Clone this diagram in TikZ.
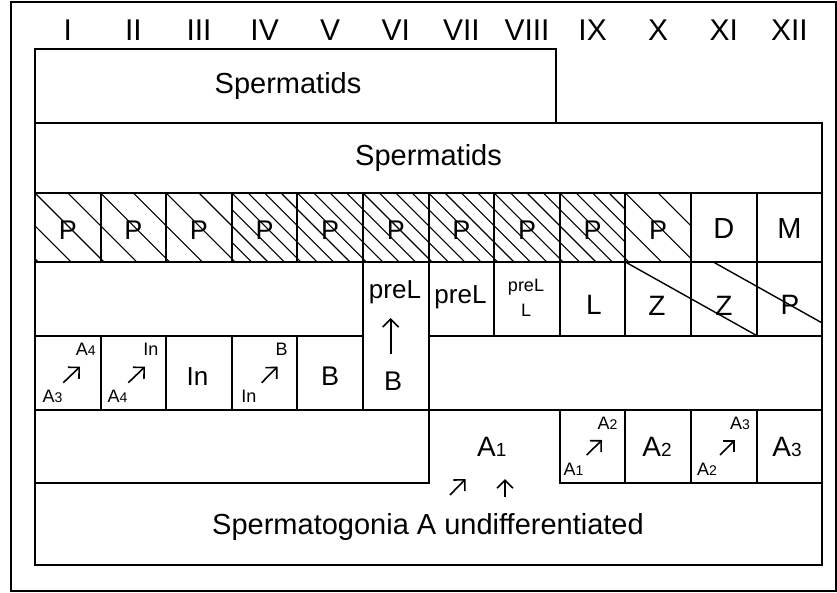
\documentclass[tikz,border=0pt]{standalone}
\usepackage{fontspec}
\setmainfont{Liberation Sans}
\usetikzlibrary{arrows.meta}
\newcommand\fs[1]{\fontsize{#1}{#1}\selectfont}
\newcommand\bigsub[2]{#1{\fs{19}#2}}
\newcommand\smsub[2]{#1{\fs{14}#2}}
\begin{document}
\begin{tikzpicture}[x=1pt,y=-1pt,line join=miter,
  frame/.style={draw,line width=2pt},
  hatch/.style={line width=1.1pt},
  lab/.style={inner sep=0pt},
  title/.style={lab,font=\fs{29}},
  small/.style={lab,font=\fs{18}},
  arr/.style={line width=1.6pt,-{Straight Barb[length=8pt,width=16pt,line width=1.6pt]}}]
\useasboundingbox (0,0) rectangle (837,592);
\fill[white] (0,0) rectangle (837,592);
% outer frame
\draw[line width=2pt] (11,2) rectangle (836,591);
% Roman numerals
\foreach \r [count=\i from 0] in {I,II,III,IV,V,VI,VII,VIII,IX,X,XI,XII}
  \node[lab,font=\fs{30}] (rn\i) at ({67.8+65.6*\i},30) {\r};
% Spermatids boxes
\draw[frame] (35,49.3) rectangle (556,122.7);
\node[title] (sp1) at (288,86) {Spermatids};
\draw[frame] (35,122.7) rectangle (822.2,193);
\node[title] (sp2) at (428.5,158) {Spermatids};
% P row hatching
\foreach \i in {0,1,2,9}{
  \begin{scope}
    \clip ({35+65.6*\i},193) rectangle ({35+65.6*(\i+1)},262);
    \foreach \k in {-3,...,3} \draw[hatch] ({35+65.6*\i+32.8*\k},193) -- ++(90,90);
  \end{scope}}
\foreach \i in {3,...,8}{
  \begin{scope}
    \clip ({35+65.6*\i},193) rectangle ({35+65.6*(\i+1)},262);
    \foreach \k in {-5,...,5} \draw[hatch] ({35+65.6*\i+16.4*\k},193) -- ++(90,90);
  \end{scope}}
\draw[frame] (35,193) rectangle (822.2,262);
\foreach \i in {1,...,11} \draw[frame] ({35+65.6*\i},193) -- ({35+65.6*\i},262);
\foreach \i in {0,...,9} \node[lab,font=\fs{27}] (p\i) at ({67.8+65.6*\i},230) {P};
\node[lab,font=\fs{29}] (pD) at (723.8,229) {D};
\node[lab,font=\fs{29}] (pM) at (789.4,229) {M};
% row 2
\draw[frame] (35,262) rectangle (363,335.5);
\draw[frame] (363,262) rectangle (428.6,410);
\foreach \i in {6,...,11} \draw[frame] ({35+65.6*\i},262) rectangle ({35+65.6*(\i+1)},335.5);
\node[lab,font=\fs{26}] (preA) at (395,292) {preL};
\coordinate (upS) at (390.7,354);
\coordinate (upE) at (390.7,318);
\draw[arr] (upS) -- (upE);
\node[lab,font=\fs{27}] (bVI) at (393,381) {B};
\node[lab,font=\fs{26}] (preB) at (460.5,297) {preL};
\node[lab,font=\fs{18}] (preC) at (526,287) {preL};
\node[lab,font=\fs{18}] (lC) at (526,310) {L};
\node[lab,font=\fs{28}] (lIX) at (594,305) {L};
\node[lab,font=\fs{28}] (zX) at (657,306) {Z};
\node[lab,font=\fs{28}] (zXI) at (724,306) {Z};
\node[lab,font=\fs{28}] (pXII) at (790,305) {P};
\coordinate (d1a) at (625.4,262);
\coordinate (d1b) at (756.6,335.5);
\coordinate (d2a) at (713.3,262);
\coordinate (d2b) at (822.2,323);
\draw[line width=1.4pt] (d1a) -- (d1b);
\draw[line width=1.4pt] (d2a) -- (d2b);
% row 3
\foreach \i in {0,...,4} \draw[frame] ({35+65.6*\i},335.5) rectangle ({35+65.6*(\i+1)},410);
\draw[frame] (428.6,335.5) rectangle (822.2,410);
\node[small] (c1t) at (85.8,349) {\smsub{A}{4}};
\node[small] (c1b) at (52.5,396) {\smsub{A}{3}};
\coordinate (c1s) at (63.3,382.7); \coordinate (c1e) at (80,366.7);
\draw[arr] (c1s) -- (c1e);
\node[small] (c2t) at (150.8,349) {In};
\node[small] (c2b) at (117.5,396) {\smsub{A}{4}};
\coordinate (c2s) at (128.3,382.7); \coordinate (c2e) at (145,366.7);
\draw[arr] (c2s) -- (c2e);
\node[lab,font=\fs{26}] (c3) at (197.5,377) {In};
\node[small] (c4t) at (281.5,349) {B};
\node[small] (c4b) at (248.8,396) {In};
\coordinate (c4s) at (261.7,382.7); \coordinate (c4e) at (277.5,366.7);
\draw[arr] (c4s) -- (c4e);
\node[lab,font=\fs{27}] (c5) at (330,376) {B};
% row 4
\draw[frame] (35,410) rectangle (428.6,483.3);
\foreach \i in {8,...,11} \draw[frame] ({35+65.6*\i},410) rectangle ({35+65.6*(\i+1)},483.3);
\node[lab,font=\fs{28}] (a1) at (491.7,447) {\bigsub{A}{1}};
\coordinate (u1s) at (450,495); \coordinate (u1e) at (465.5,479);
\draw[arr] (u1s) -- (u1e);
\coordinate (u2s) at (505,497); \coordinate (u2e) at (505,479);
\draw[arr] (u2s) -- (u2e);
\node[small] (c9t) at (607.5,423) {\smsub{A}{2}};
\node[small] (c9b) at (573.5,469.5) {\smsub{A}{1}};
\coordinate (c9s) at (586.7,455); \coordinate (c9e) at (602,440);
\draw[arr] (c9s) -- (c9e);
\node[lab,font=\fs{28}] (c10) at (657,447) {\bigsub{A}{2}};
\node[small] (c11t) at (740,423) {\smsub{A}{3}};
\node[small] (c11b) at (707,469.5) {\smsub{A}{2}};
\coordinate (c11s) at (720,455); \coordinate (c11e) at (735,440);
\draw[arr] (c11s) -- (c11e);
\node[lab,font=\fs{28}] (c12) at (787,447) {\bigsub{A}{3}};
% spermatogonia
\draw[frame] (35,483.3) -- (35,565) -- (822.2,565) -- (822.2,483.3);
\node[title] (sg) at (428,527) {Spermatogonia A undifferentiated};
\end{tikzpicture}
\end{document}
